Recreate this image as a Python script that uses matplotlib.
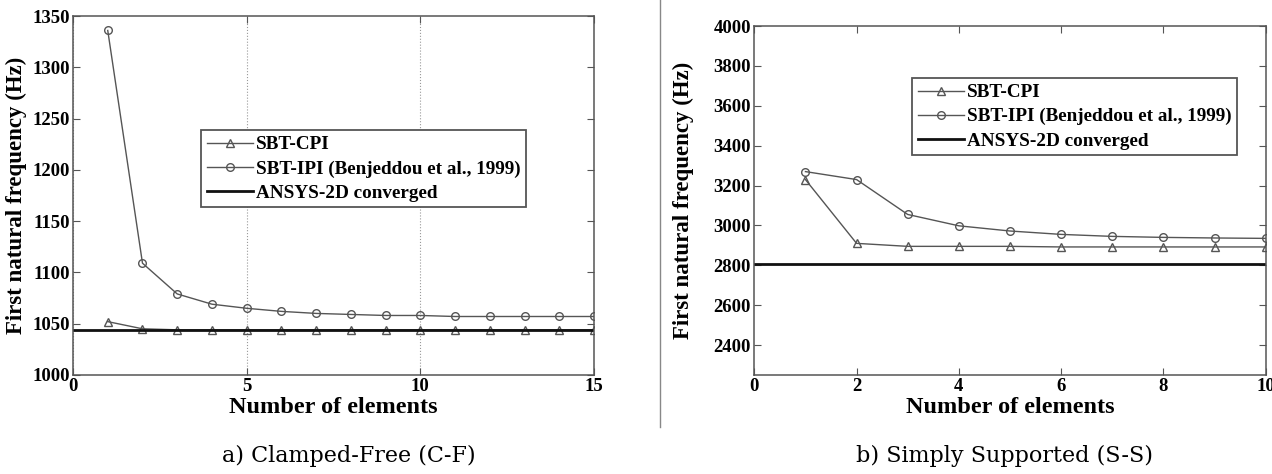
import matplotlib.pyplot as plt
from matplotlib.lines import Line2D

# Clamped-Free (C-F)
CF_ELEMENTS = [1, 2, 3, 4, 5, 6, 7, 8, 9, 10, 11, 12, 13, 14, 15]
CF_SBT_CPI = [1052, 1045, 1044, 1044, 1044, 1044, 1044, 1044, 1044, 1044, 1044, 1044, 1044, 1044, 1044]
CF_SBT_IPI = [1336, 1109, 1079, 1069, 1065, 1062, 1060, 1059, 1058, 1058, 1057, 1057, 1057, 1057, 1057]
CF_ANSYS = 1043.5

# Simply Supported (S-S)
SS_ELEMENTS = [1, 2, 3, 4, 5, 6, 7, 8, 9, 10]
SS_SBT_CPI = [3230, 2910, 2895, 2895, 2895, 2892, 2892, 2892, 2892, 2892]
SS_SBT_IPI = [3270, 3230, 3055, 2998, 2972, 2955, 2945, 2940, 2937, 2935]
SS_ANSYS = 2805

LABELS = ['SBT-CPI', 'SBT-IPI (Benjeddou et al., 1999)', 'ANSYS-2D converged']

SERIF = ['Liberation Serif', 'DejaVu Serif']
GREY = '#555555'

plt.rcParams['font.family'] = SERIF
plt.rcParams['font.weight'] = 'bold'

fig = plt.figure(figsize=(12.72, 4.74), dpi=100)
ax1 = fig.add_axes([0.0574, 0.209, 0.4096, 0.757])
ax2 = fig.add_axes([0.593, 0.209, 0.402, 0.736])


def draw(ax, x, cpi, ipi, ansys, xmax):
    ax.plot(x, cpi, marker='^', ms=5.5, mfc='none', mec=GREY, color=GREY, lw=1.0, label=LABELS[0])
    ax.plot(x, ipi, marker='o', ms=5.5, mfc='none', mec=GREY, color=GREY, lw=1.0, label=LABELS[1])
    ax.axhline(ansys, color='#111111', lw=2.0, label=LABELS[2])
    ax.set_xlim(0, xmax)
    ax.set_xlabel('Number of elements', fontsize=17.5, fontweight='bold', labelpad=1)
    ax.set_ylabel('First natural frequency (Hz)', fontsize=16.5, fontweight='bold')
    ax.tick_params(direction='in', top=True, right=True, labelsize=13.5, length=5, color=GREY, pad=2.5)
    for lab in ax.get_xticklabels() + ax.get_yticklabels():
        lab.set_fontweight('bold')
    for s in ax.spines.values():
        s.set_color(GREY)
        s.set_linewidth(1.1)
    return ax


def legend(ax, anchor):
    leg = ax.legend(loc='upper left', bbox_to_anchor=anchor, fontsize=13.8, frameon=True,
                    fancybox=False, edgecolor=GREY, handlelength=2.4, borderpad=0.3,
                    labelspacing=0.35, handletextpad=0.15, borderaxespad=0, framealpha=1)
    leg.get_frame().set_linewidth(1.3)
    return leg


draw(ax1, CF_ELEMENTS, CF_SBT_CPI, CF_SBT_IPI, CF_ANSYS, 15)
ax1.set_ylim(1000, 1350)
ax1.set_xticks([0, 5, 10, 15])
ax1.set_yticks(range(1000, 1351, 50))
ax1.grid(axis='x', linestyle=':', color='#999999', lw=0.8)
ax1.yaxis.set_label_coords(-0.088, 0.5)
legend(ax1, (0.246, 0.682))

draw(ax2, SS_ELEMENTS, SS_SBT_CPI, SS_SBT_IPI, SS_ANSYS, 10)
ax2.set_ylim(2250, 4000)
ax2.set_xticks(range(0, 11, 2))
ax2.set_yticks(range(2400, 4001, 200))
ax2.yaxis.set_label_coords(-0.117, 0.5)
legend(ax2, (0.309, 0.851))

# divider between panels
fig.add_artist(Line2D([0.519, 0.519], [0.10, 1.0], color='#888888', lw=1.0))

fig.text(0.274, 0.025, 'a) Clamped-Free (C-F)', ha='center', fontsize=16, fontweight='normal',
         family=['DejaVu Serif'])
fig.text(0.790, 0.025, 'b) Simply Supported (S-S)', ha='center', fontsize=16, fontweight='normal',
         family=['DejaVu Serif'])

fig.savefig('out.png', dpi=100)
